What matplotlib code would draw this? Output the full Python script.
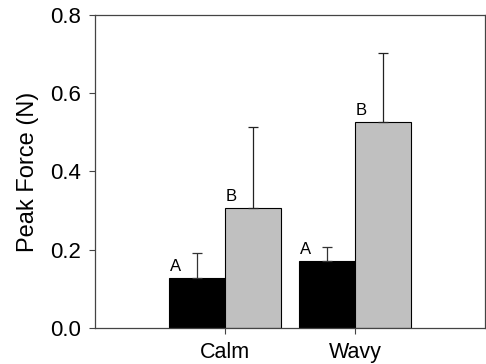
import matplotlib.pyplot as plt
import numpy as np

plt.rcParams['font.family'] = ['Liberation Sans', 'DejaVu Sans']

conditions = ["Calm", "Wavy"]
black_means = [0.127, 0.171]
black_err = [0.064, 0.035]
gray_means = [0.306, 0.526]
gray_err = [0.207, 0.177]
black_letters = ["A", "A"]
gray_letters = ["B", "B"]

x = np.arange(len(conditions))
w = 0.43

fig = plt.figure(figsize=(4.86, 3.64), dpi=100)
ax = fig.add_axes([0.195, 0.099, 0.803, 0.86])

ax.bar(x - w/2, black_means, w, color="black", edgecolor="black", linewidth=0.8)
ax.bar(x + w/2, gray_means, w, color="#c0c0c0", edgecolor="black", linewidth=0.8)
ax.errorbar(x - w/2, black_means, yerr=[np.zeros(2), black_err], fmt="none",
            ecolor="#333333", elinewidth=0.9, capsize=3.6, capthick=0.9)
ax.errorbar(x + w/2, gray_means, yerr=[np.zeros(2), gray_err], fmt="none",
            ecolor="#222222", elinewidth=0.9, capsize=3.6, capthick=0.9)

for xi, m, lab in zip(x - w, black_means, black_letters):
    ax.text(xi + 0.05, m + 0.01, lab, ha="center", va="bottom", fontsize=12)
for xi, m, lab in zip(x, gray_means, gray_letters):
    ax.text(xi + 0.05, m + 0.01, lab, ha="center", va="bottom", fontsize=12)

ax.set_xlim(-1.0, 2.0)
ax.set_ylim(0, 0.8)
ax.set_xticks(x)
ax.set_xticklabels(conditions, fontsize=15.5)
ax.set_yticks([0, 0.2, 0.4, 0.6, 0.8])
ax.set_yticklabels(["0.0", "0.2", "0.4", "0.6", "0.8"], fontsize=16)
ax.set_ylabel("Peak Force (N)", fontsize=17, labelpad=8)
ax.tick_params(direction="out", length=4, width=0.8, color="#444444", pad=6)
for s in ax.spines.values():
    s.set_linewidth(0.9)
    s.set_color("#444444")

fig.savefig("out.png", dpi=100)
